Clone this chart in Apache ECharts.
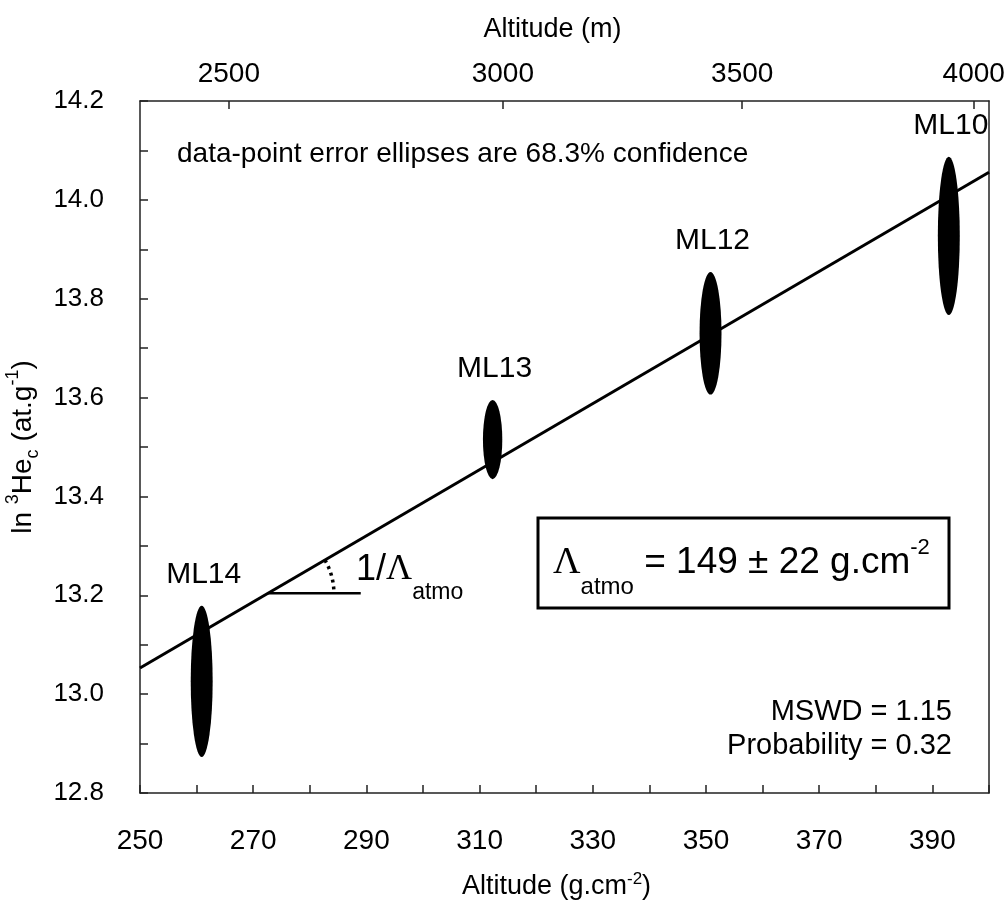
<!DOCTYPE html>
<html>
<head>
<meta charset="utf-8">
<script src="https://cdn.jsdelivr.net/npm/echarts@6/dist/echarts.min.js"></script>
<style>html,body{margin:0;padding:0;background:#fff}#c{width:1007px;height:904px}</style>
</head>
<body>
<div id="c"></div>
<script>
// ---- data ----
const samples = ['ML14', 'ML13', 'ML12', 'ML10'];
const depth = [260.9, 312.3, 350.8, 392.9];          // g.cm-2
const lnHe = [13.026, 13.515, 13.730, 13.927];       // ln 3He_c
const depthErr = [1.94, 1.71, 1.94, 1.94];           // ellipse half-width (g.cm-2)
const lnHeErr = [0.153, 0.080, 0.124, 0.160];        // ellipse half-height
const fitX = [250, 400];
const fitY = [13.053, 14.056];
const slopeRefX = [272.6, 289.0];
const slopeRefY = [13.204, 13.204];
const xTickLabels = [250, 270, 290, 310, 330, 350, 370, 390];
const xTicks = [250, 260, 270, 280, 290, 300, 310, 320, 330, 340, 350, 360, 370, 380, 390, 400];
const yTickLabels = [12.8, 13.0, 13.2, 13.4, 13.6, 13.8, 14.0, 14.2];
const yTicks = [12.8, 12.9, 13.0, 13.1, 13.2, 13.3, 13.4, 13.5, 13.6, 13.7, 13.8, 13.9, 14.0, 14.1, 14.2];
const altitudeLabels = ['2500', '3000', '3500', '4000'];
const altitudeDepth = [265.7, 314.1, 356.4, 397.3];

// ---- chart ----
const FF = "'Liberation Sans', Arial, sans-serif";
const SERIF = "'Liberation Serif', 'Times New Roman', serif";
const AX = '#222';
const chart = echarts.init(document.getElementById('c'), null, {renderer: 'canvas'});

const axisLineStyle = {color: AX, width: 1.5};

const option = {
  backgroundColor: '#fff',
  animation: false,
  grid: {left: 140, right: 18, top: 101, bottom: 111, containLabel: false, outerBoundsMode: 'none'},
  xAxis: [
    {
      type: 'value', position: 'bottom', min: 250, max: 400,
      axisLine: {show: true, onZero: false, lineStyle: axisLineStyle},
      axisTick: {show: true, inside: true, length: 8, customValues: xTicks, lineStyle: axisLineStyle},
      axisLabel: {customValues: xTickLabels, fontSize: 28, fontFamily: FF, color: '#000', margin: 34},
      splitLine: {show: false},
      name: 'Altitude (g.cm{sup|-2})', nameLocation: 'middle', nameGap: 78,
      nameTextStyle: {fontSize: 27, fontFamily: FF, color: '#000', lineHeight: 32, padding: [0, 16, 0, 0],
        rich: {sup: {fontSize: 17, fontFamily: FF, color: '#000', verticalAlign: 'top', lineHeight: 20}}}
    },
    {
      type: 'value', position: 'top', min: 250, max: 400,
      axisLine: {show: true, onZero: false, lineStyle: axisLineStyle},
      axisTick: {show: true, inside: true, length: 8, customValues: altitudeDepth, lineStyle: axisLineStyle},
      axisLabel: {
        customValues: altitudeDepth, fontSize: 28, fontFamily: FF, color: '#000', margin: 13,
        formatter: function (v) {
          let best = 0;
          for (let i = 1; i < altitudeDepth.length; i++) {
            if (Math.abs(altitudeDepth[i] - v) < Math.abs(altitudeDepth[best] - v)) best = i;
          }
          return altitudeLabels[best];
        }
      },
      splitLine: {show: false},
      name: 'Altitude (m)', nameLocation: 'middle', nameGap: 58,
      nameTextStyle: {fontSize: 27, fontFamily: FF, color: '#000', padding: [0, 24, 0, 0]}
    }
  ],
  yAxis: [
    {
      type: 'value', position: 'left', min: 12.8, max: 14.2,
      axisLine: {show: true, onZero: false, lineStyle: axisLineStyle},
      axisTick: {show: true, inside: true, length: 8, customValues: yTicks, lineStyle: axisLineStyle},
      axisLabel: {customValues: yTickLabels, fontSize: 26, fontFamily: FF, color: '#000', margin: 36,
        formatter: v => Number(v).toFixed(1)},
      splitLine: {show: false},
      name: 'ln {sup|3}He{sub|c} (at.g{sup|-1})', nameLocation: 'middle', nameGap: 84, nameRotate: 90,
      nameTextStyle: {fontSize: 28, fontFamily: FF, color: '#000', lineHeight: 38,
        rich: {
          sup: {fontSize: 18, fontFamily: FF, color: '#000', verticalAlign: 'top', lineHeight: 22},
          sub: {fontSize: 18, fontFamily: FF, color: '#000', verticalAlign: 'bottom', lineHeight: 22}
        }}
    },
    {
      type: 'value', position: 'right', min: 12.8, max: 14.2,
      axisLine: {show: true, onZero: false, lineStyle: axisLineStyle},
      axisTick: {show: false}, axisLabel: {show: false}, splitLine: {show: false}
    }
  ],
  series: [
    {
      name: 'fit', type: 'line', xAxisIndex: 0, yAxisIndex: 0,
      data: fitX.map((x, i) => [x, fitY[i]]),
      showSymbol: false, silent: true, z: 2,
      lineStyle: {color: '#000', width: 3}
    },
    {
      name: 'slope-ref', type: 'line', xAxisIndex: 0, yAxisIndex: 0,
      data: slopeRefX.map((x, i) => [x, slopeRefY[i]]),
      showSymbol: false, silent: true, z: 2,
      lineStyle: {color: '#000', width: 2.5}
    },
    {
      name: 'slope-arc', type: 'custom', xAxisIndex: 0, yAxisIndex: 0, silent: true, z: 2,
      data: [[slopeRefX[0], slopeRefY[0]]],
      renderItem: function (params, api) {
        const c = api.coord([api.value(0), api.value(1)]);
        const p1 = api.coord([fitX[0], fitY[0]]);
        const p2 = api.coord([fitX[1], fitY[1]]);
        const ang = Math.atan2(p1[1] - p2[1], p2[0] - p1[0]);
        return {
          type: 'arc',
          shape: {cx: c[0], cy: c[1], r: 66, startAngle: -ang, endAngle: 0, clockwise: true},
          style: {stroke: '#000', lineWidth: 3.5, lineDash: [3, 4], fill: null}
        };
      }
    },
    {
      name: 'samples', type: 'custom', xAxisIndex: 0, yAxisIndex: 0, silent: true, z: 3,
      data: samples.map((s, i) => [depth[i], lnHe[i], depthErr[i], lnHeErr[i], s]),
      renderItem: function (params, api) {
        const c = api.coord([api.value(0), api.value(1)]);
        const sz = api.size([api.value(2), api.value(3)]);
        const rx = sz[0], ry = sz[1];
        return {
          type: 'group',
          children: [
            {type: 'circle', shape: {cx: 0, cy: 0, r: ry}, x: c[0], y: c[1], scaleX: rx / ry,
              style: {fill: '#000'}},
            {type: 'text', x: c[0] + 2, y: c[1] - ry - 16,
              style: {text: samples[params.dataIndex], fontSize: 30, fontFamily: FF, fill: '#000',
                align: 'center', verticalAlign: 'bottom'}}
          ]
        };
      }
    }
  ],
  graphic: [
    {type: 'text', left: 177, top: 140,
      style: {text: 'data-point error ellipses are 68.3% confidence', fontSize: 28, fontFamily: FF, fill: '#000'}},
    {type: 'text', x: 952, y: 712,
      style: {text: 'MSWD = 1.15', fontSize: 29, fontFamily: FF, fill: '#000', align: 'right', verticalAlign: 'middle'}},
    {type: 'text', x: 952, y: 746,
      style: {text: 'Probability = 0.32', fontSize: 29, fontFamily: FF, fill: '#000', align: 'right', verticalAlign: 'middle'}},
    {type: 'rect', shape: {x: 538, y: 518, width: 411, height: 90},
      style: {fill: '#fff', stroke: '#000', lineWidth: 3}, z: 10},
    {type: 'text', x: 553, y: 527, z: 11,
      style: {
        text: '{L|Λ}{sub|atmo}{m| = 149 ± 22 g.cm}{sup|-2}',
        verticalAlign: 'top',
        rich: {
          L: {fontSize: 38, fontFamily: SERIF, fill: '#000', lineHeight: 72, verticalAlign: 'middle'},
          sub: {fontSize: 24, fontFamily: FF, fill: '#000', lineHeight: 24, verticalAlign: 'bottom'},
          m: {fontSize: 37, fontFamily: FF, fill: '#000', lineHeight: 72, verticalAlign: 'middle'},
          sup: {fontSize: 22, fontFamily: FF, fill: '#000', verticalAlign: 'top', padding: [10, 0, 0, 0]}
        }
      }},
    {type: 'text', x: 356, y: 536, z: 11,
      style: {
        text: '{m|1/}{L|Λ}{sub|atmo}',
        verticalAlign: 'top',
        rich: {
          L: {fontSize: 36, fontFamily: SERIF, fill: '#000', lineHeight: 68, verticalAlign: 'middle'},
          m: {fontSize: 36, fontFamily: FF, fill: '#000', lineHeight: 68, verticalAlign: 'middle'},
          sub: {fontSize: 23, fontFamily: FF, fill: '#000', lineHeight: 22, verticalAlign: 'bottom'}
        }
      }}
  ]
};
chart.setOption(option);
</script>
</body>
</html>
